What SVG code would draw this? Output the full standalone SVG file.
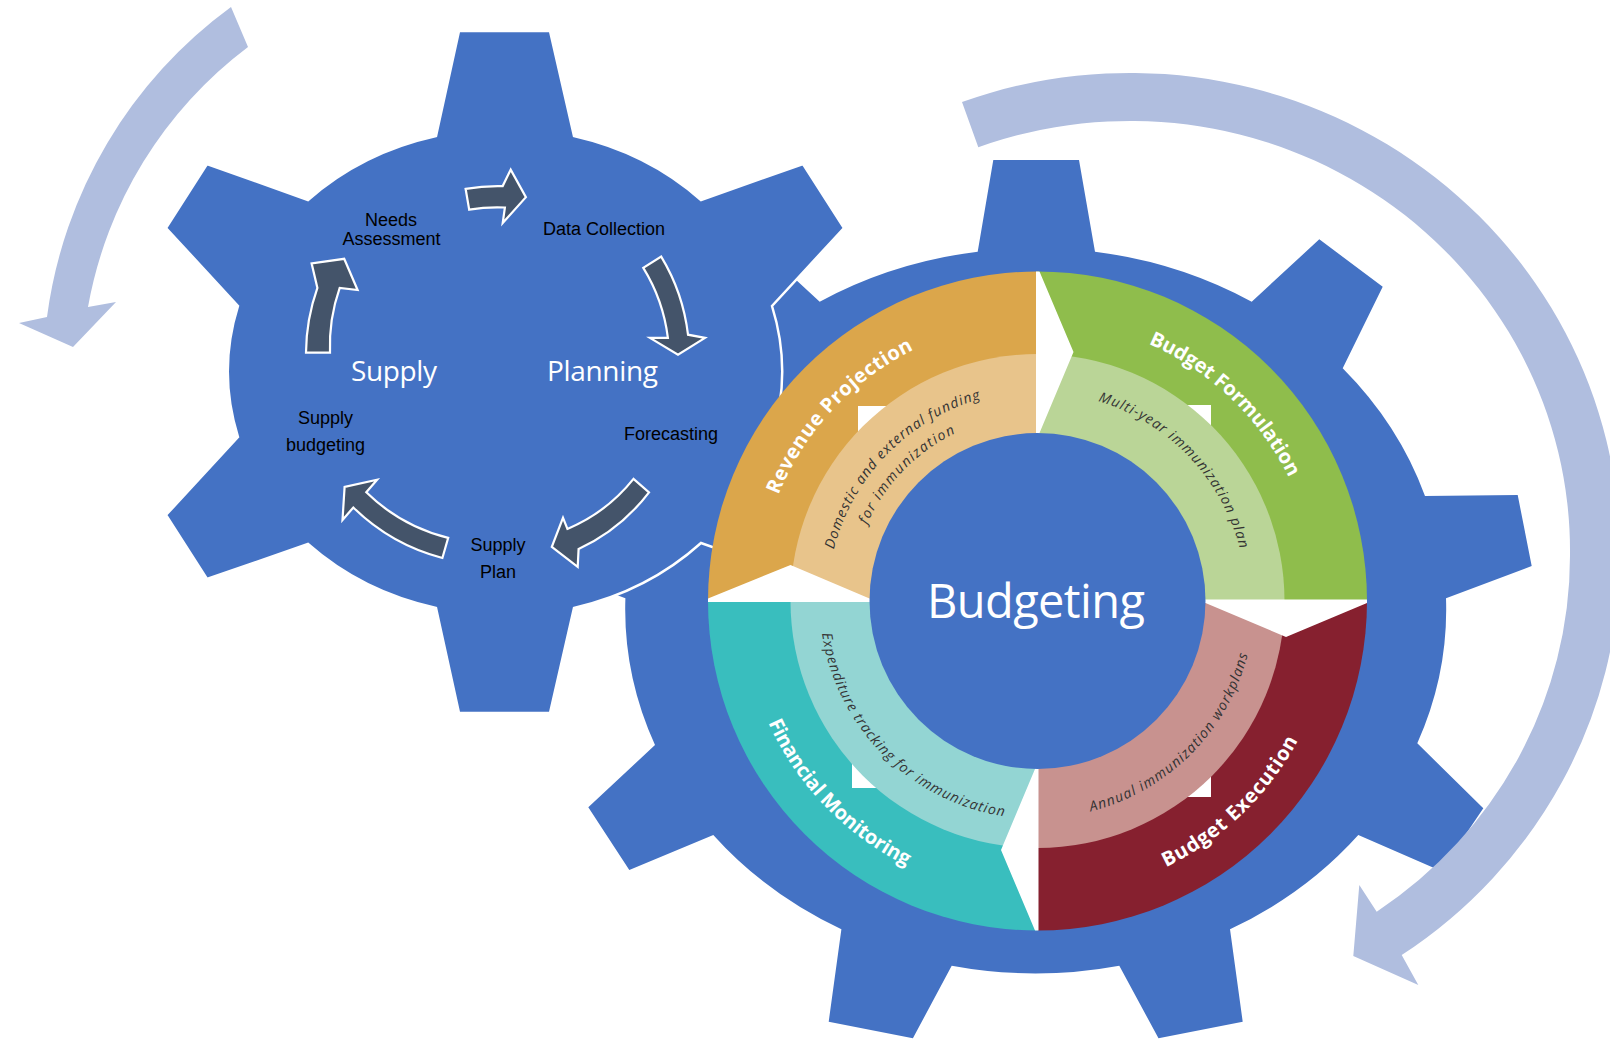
<svg xmlns="http://www.w3.org/2000/svg" width="1610" height="1039" viewBox="0 0 1610 1039">
<style>
.gear{fill:#4472C4}
.sgear{fill:#4472C4;stroke:#fff;stroke-width:2.5;stroke-linejoin:miter}
.big-arrow{fill:#B0BEDF}
.cyc{fill:#44546A;stroke:#fff;stroke-width:2.2;stroke-linejoin:miter}
.lbl{font-family:"Liberation Sans",Arial,sans-serif;font-size:18px;fill:#000}
.title{font-family:"Open Sans","Noto Sans",sans-serif;fill:#fff}
.seg{font-family:"Open Sans","Noto Sans",sans-serif;font-weight:bold;font-size:20px;fill:#fff}
.sub{font-family:"Open Sans","Noto Sans",sans-serif;font-style:italic;font-size:14px;fill:#333}
.gap{fill:#fff}
</style>
<defs>
<clipPath id="ringClip"><circle cx="1037.5" cy="601" r="329.5"/></clipPath>
<path id="pRev" d="M 757.67,610.77 A 280 280 0 0 1 1027.73,321.17"/>
<path id="pForm" d="M 1030.66,321.08 A 280 280 0 0 1 1317.42,594.16"/>
<path id="pExec" d="M 1031.31,896.43 A 295.5 295.5 0 0 0 1332.93,607.19"/>
<path id="pFin" d="M 742.05,595.84 A 295.5 295.5 0 0 0 1032.34,896.45"/>
<path id="pDom1" d="M 827.52,603.75 A 210 210 0 0 1 1034.75,391.02"/>
<path id="pDom2" d="M 850.53,604.26 A 187 187 0 0 1 1034.24,414.03"/>
<path id="pMulti" d="M 1041.88,392.05 A 209 209 0 0 1 1246.45,605.38"/>
<path id="pAnn" d="M 1037.5,818 A 217 217 0 0 0 1254.5,601"/>
<path id="pExp" d="M 819.5,600.43 A 218 218 0 0 0 1036.93,819"/>
</defs>

<g id="budgeting-gear">
<path class="gear" d="M 977.7,251.7 L 993.3,160 L 1079,160 L 1095,251.7 A 410 363 0 0 1 1251.7,301.7 L 1319.3,239.3 L 1382.7,286.7 L 1342.7,368.3 A 410 363 0 0 1 1425,496 L 1517.7,495 L 1531.7,566 L 1446,598.3 A 410 363 0 0 1 1417.3,743.3 L 1483.3,808.3 L 1441,871 L 1358.3,835 A 410 363 0 0 1 1230,929.3 L 1242.7,1021.7 L 1158.5,1038.3 L 1119.3,965.7 A 410 363 0 0 1 951.7,965.7 L 912.9,1038.3 L 828.7,1021.7 L 841.4,929.3 A 410 363 0 0 1 713.3,835 L 629.3,870 L 588.3,807.3 L 655,745 A 410 363 0 0 1 625.4,598.3 L 539.7,566 L 553.7,495 L 646.4,496 A 410 363 0 0 1 728.7,368.3 L 688.7,286.7 L 752.1,239.3 L 819.7,301.7 A 410 363 0 0 1 977.7,251.7 Z"/>
</g>

<g id="supply-planning-gear">
<path class="sgear" d="M 436,136 L 459,31 L 550,31 L 574,136 A 276 245 0 0 1 701,200 L 803,164 L 844,228 L 772,306 A 276 245 0 0 1 772,437 L 844,515 L 803,579 L 701,543 A 276 245 0 0 1 574,608 L 550,713 L 459,713 L 436,608 A 276 245 0 0 1 308,544 L 207,579 L 166,515 L 238,437 A 276 245 0 0 1 238,306 L 166,228 L 207,164 L 308,200 A 276 245 0 0 1 436,136 Z"/>
<text class="title" x="351" y="381" font-size="28" textLength="86">Supply</text>
<text class="title" x="547" y="381" font-size="28" textLength="111">Planning</text>
</g>

<g id="budget-wheel">
<path id="seg-revenue" fill="#DBA64B" d="M 1037.5,601 L 708,601 A 329.5 329.5 0 0 1 1037.5,271.5 Z"/>
<path id="seg-formulation" fill="#8FBD4C" d="M 1037.5,601 L 1037.5,271.5 A 329.5 329.5 0 0 1 1367,601 Z"/>
<path id="seg-execution" fill="#86202F" d="M 1037.5,601 L 1367,601 A 329.5 329.5 0 0 1 1037.5,930.5 Z"/>
<path id="seg-monitoring" fill="#39BEBE" d="M 1037.5,601 L 1037.5,930.5 A 329.5 329.5 0 0 1 708,601 Z"/>
<rect class="gap" x="858" y="406" width="30" height="30"/>
<rect class="gap" x="1181" y="405" width="30" height="30"/>
<rect class="gap" x="852" y="758" width="30" height="30"/>
<rect class="gap" x="1181" y="767" width="30" height="30"/>
<path fill="#E8C48B" d="M 1037.5,601 L 790.5,601 A 247 247 0 0 1 1037.5,354 Z"/>
<path fill="#BAD597" d="M 1037.5,601 L 1037.5,354 A 247 247 0 0 1 1284.5,601 Z"/>
<path fill="#C8928F" d="M 1037.5,601 L 1284.5,601 A 247 247 0 0 1 1037.5,848 Z"/>
<path fill="#93D5D3" d="M 1037.5,601 L 1037.5,848 A 247 247 0 0 1 790.5,601 Z"/>
<g clip-path="url(#ringClip)">
<polygon class="gap" points="1036,255 1039.5,255 1039.5,271.5 1073.5,352 1039.5,433 1039.5,445 1036,445"/>
<polygon class="gap" points="1385,599.5 1385,603 1367,603 1286,637 1205.5,603 1195,603 1195,599.5"/>
<polygon class="gap" points="1038.5,945 1035,945 1035,930.5 1001,850 1035,769 1035,760 1038.5,760"/>
<polygon class="gap" points="695,602 695,598.5 708,598.5 790.5,565 869.5,598.5 880,598.5 880,602"/>
</g>
<circle class="gear" cx="1037.5" cy="601" r="168"/>
<text class="title" x="1036" y="618" font-size="47" text-anchor="middle" textLength="218">Budgeting</text>
<text class="seg"><textPath href="#pRev" startOffset="50%" text-anchor="middle" textLength="203">Revenue Projection</textPath></text>
<text class="seg"><textPath href="#pForm" startOffset="50%" text-anchor="middle" textLength="198">Budget Formulation</textPath></text>
<text class="seg"><textPath href="#pExec" startOffset="50%" text-anchor="middle" textLength="186">Budget Execution</textPath></text>
<text class="seg"><textPath href="#pFin" startOffset="50%" text-anchor="middle" textLength="203">Financial Monitoring</textPath></text>
<text class="sub"><textPath href="#pDom1" startOffset="50%" text-anchor="middle" textLength="220">Domestic and external funding</textPath></text>
<text class="sub"><textPath href="#pDom2" startOffset="50%" text-anchor="middle" textLength="130">for immunization</textPath></text>
<text class="sub"><textPath href="#pMulti" startOffset="50%" text-anchor="middle" textLength="214">Multi-year immunization plan</textPath></text>
<text class="sub"><textPath href="#pAnn" startOffset="50%" text-anchor="middle" textLength="233">Annual immunization workplans</textPath></text>
<text class="sub"><textPath href="#pExp" startOffset="50%" text-anchor="middle" textLength="276">Expenditure tracking for immunization</textPath></text>
</g>

<g id="connectors">
<path class="big-arrow" d="M 231,7 A 458 458 0 0 0 47,317 L 19,323 L 73,347 L 116,302 L 88,307 A 417 417 0 0 1 248,47 Z"/>
<path class="big-arrow" d="M 962,102 A 490 480 0 0 1 1620,555 A 490 480 0 0 1 1401.7,955 L 1418.3,985 L 1353.3,956 L 1359.3,885 L 1376.7,911.7 A 440 430 0 0 0 1570,555 A 440 430 0 0 0 978.3,147.3 Z"/>
<path class="cyc" d="M 465.6,188.8 A 187 187 0 0 1 502.7,186.1 L 510.7,169.6 L 525.9,197.2 L 502.7,223.1 L 504.9,207.5 A 166 166 0 0 0 469.2,209.7 Z"/>
<path class="cyc" d="M 661.2,256.6 A 195 195 0 0 1 688,334.7 L 705,337.9 L 678,354.8 L 650,337.9 L 667.9,337.9 A 174 174 0 0 0 643.3,267.8 Z"/>
<path class="cyc" d="M 649,492.3 A 188 188 0 0 1 578.6,549 L 577.7,566.9 L 551.8,546.8 L 563,517.8 L 567.4,528.9 A 167.5 167.5 0 0 0 633.5,478.9 Z"/>
<path class="cyc" d="M 442.4,558 A 200 200 0 0 1 353.3,507.5 L 342.5,520 L 344.6,486.9 L 377.1,479.8 L 366.3,492.3 A 179 179 0 0 0 448.2,537.9 Z"/>
<path class="cyc" d="M 306,352.6 A 199 199 0 0 1 317.4,287.9 L 311.6,263.3 L 344.2,258.8 L 357.6,290 L 339.7,287.9 A 175 175 0 0 0 330,352.6 Z"/>
</g>

<g id="needs-assessment"><text class="lbl" text-anchor="middle"><tspan x="391" y="226">Needs</tspan><tspan x="391.5" y="245">Assessment</tspan></text></g>
<g id="data-collection"><text class="lbl" x="543" y="235">Data Collection</text></g>
<g id="forecasting"><text class="lbl" x="624" y="440">Forecasting</text></g>
<g id="supply-plan"><text class="lbl" text-anchor="middle"><tspan x="498" y="551">Supply</tspan><tspan x="498" y="578">Plan</tspan></text></g>
<g id="supply-budgeting"><text class="lbl" text-anchor="middle"><tspan x="325.5" y="424">Supply</tspan><tspan x="325.5" y="451">budgeting</tspan></text></g>
</svg>
